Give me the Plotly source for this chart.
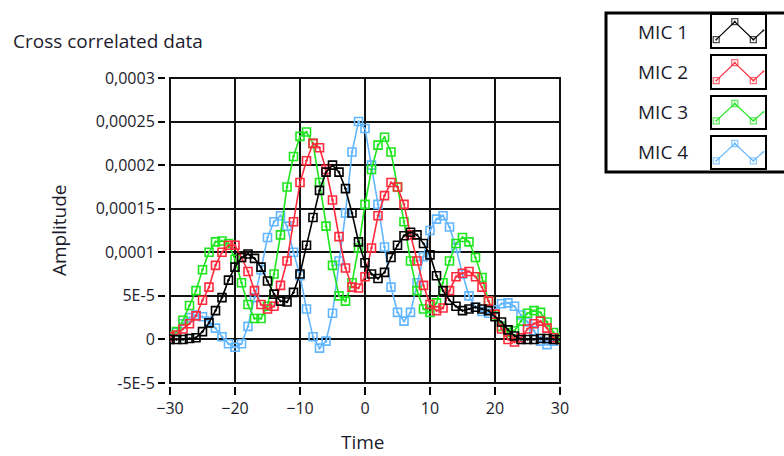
import plotly.graph_objects as go

# ---------------- data (amplitude values in units of 1e-5) ----------------
TIME = list(range(-30, 31))
SCALE = 1e-5

MIC1 = [0, 0, 0, 0.1, 0.2, 0.9, 1.9, 3.3, 4.8, 6.8, 8.3, 9.4, 9.8, 9.3, 8.3, 6.7, 5.2, 4.4, 4.3, 5.4,
        7.5, 10.8, 14, 17.1, 19.2, 20, 19.2, 17.3, 14.5, 11.2, 8.8, 7.5, 7, 7.7, 9.4, 10.8, 11.9, 12.3,
        12, 11, 9.7, 7.3, 5.6, 4.5, 3.8, 3.3, 3.5, 3.7, 3.5, 3.3, 2.6, 2.0, 1.1, 0.4, 0, 0, 0, 0.1, 0.1, 0, 0]
MIC2 = [0.3, 0.5, 1.2, 1.8, 2.7, 4.5, 6.0, 8.5, 10.0, 10.8, 10.8, 9.4, 7.8, 5.6, 4.0, 3.5, 3.8, 6.2, 9.0,
        13.5, 18.0, 20.5, 22.5, 22.0, 19.5, 16.0, 11.8, 8.2, 6.0, 5.9, 7.2, 10.5, 14.2, 16.5, 18.0, 17.5,
        15.5, 12.0, 9.0, 6.2, 4.0, 3.3, 3.6, 5.6, 7.2, 7.6, 7.8, 7.2, 6.0, 4.4, 2.9, 1.2, 0.0, -0.3, 0.2,
        1.2, 1.8, 2.1, 1.3, 0.2, 0]
MIC3 = [0.4, 0.9, 2.2, 3.9, 5.6, 8.0, 10.0, 11.2, 11.3, 11.0, 9.2, 6.5, 4.0, 2.4, 2.4, 3.8, 7.5, 12.0,
        17.5, 21.0, 23.3, 23.8, 22.5, 18.0, 13.0, 8.5, 5.0, 4.4, 6.5, 10.5, 15.5, 19.5, 22.3, 23.2, 21.5,
        17.5, 13.5, 9.0, 5.6, 3.5, 3.1, 4.2, 6.5, 9.0, 11.0, 11.7, 11.2, 9.4, 7.1, 4.4, 2.8, 1.5, 0.8,
        1.0, 2.1, 3.0, 3.3, 3.1, 2.0, 0.8, 0.2]
MIC4 = [0.3, 0.8, 1.8, 2.5, 2.8, 2.6, 2.1, 1.3, 0.3, -0.5, -0.9, -0.5, 1.5, 4.8, 8.0, 11.7, 13.5, 14.2,
        13.0, 10.0, 7.3, 3.5, 0.3, -1.0, -0.2, 3.0, 9.0, 14.5, 21.5, 25.0, 24.2, 20.0, 15.5, 10.6, 6.0,
        3.1, 2.1, 3.1, 6.5, 9.5, 12.5, 13.8, 14.2, 12.9, 10.5, 7.5, 5.0, 3.7, 3.2, 3.0, 3.4, 4.1, 4.2,
        3.8, 2.8, 2.0, 1.0, -0.2, -0.6, -0.2, 0]

SERIES_NAMES = ["MIC 1", "MIC 2", "MIC 3", "MIC 4"]
SERIES_VALUES = [MIC1, MIC2, MIC3, MIC4]
SERIES_COLORS = ["#000000", "#ff2b3d", "#1ee61e", "#62b6ff"]

Y_TICKVALS = [-5e-5, 0, 5e-5, 1e-4, 1.5e-4, 2e-4, 2.5e-4, 3e-4]
Y_TICKTEXT = ["-5E-5", "0", "5E-5", "0,0001", "0,00015", "0,0002", "0,00025", "0,0003"]
X_TICKVALS = [-30, -20, -10, 0, 10, 20, 30]

# legend glyph shape (normalized inside each icon box)
ICON_X = [0.08, 0.43, 0.78, 0.97]
ICON_Y = [0.23, 0.79, 0.23, 0.52]
ICON_MARKER_SIZES = [6, 6, 6, 0]

# ---------------- layout geometry (pixels) ----------------
W, H = 784, 456
PL, PR, PT, PB = 170, 560, 78, 383
FONT = "Open Sans"
TXT = "#1c1c2c"
LABEL_SIZE = 19
TICK_SIZE = 16


def px(x):
    return x / W


def py(y):
    return 1 - y / H


fig = go.Figure()

# draw blue, green, red, black (black on top)
for i in [3, 2, 1, 0]:
    fig.add_trace(go.Scatter(
        x=TIME, y=[v * SCALE for v in SERIES_VALUES[i]],
        mode="lines+markers", name=SERIES_NAMES[i],
        line=dict(color=SERIES_COLORS[i], width=1.6),
        marker=dict(symbol="square-open-dot", size=8, color=SERIES_COLORS[i],
                    line=dict(width=1.6, color=SERIES_COLORS[i])),
        showlegend=False, xaxis="x", yaxis="y",
    ))

# legend icons as tiny inset axes
icon_boxes = [(15, 47), (56, 88), (97, 128), (137, 168)]
text_y = [32, 72, 112, 152]
layout_axes = {}
for k in range(4):
    n = k + 2
    fig.add_trace(go.Scatter(
        x=ICON_X, y=ICON_Y, mode="lines+markers",
        line=dict(color=SERIES_COLORS[k], width=1.2),
        marker=dict(symbol="square-open-dot", size=ICON_MARKER_SIZES, color=SERIES_COLORS[k],
                    line=dict(width=1.3, color=SERIES_COLORS[k])),
        showlegend=False, xaxis=f"x{n}", yaxis=f"y{n}", hoverinfo="skip",
    ))
    t, b = icon_boxes[k]
    common = dict(range=[0, 1], showgrid=False, zeroline=False, showticklabels=False, ticks="",
                  showline=True, mirror=True, linecolor="#000", linewidth=2, fixedrange=True,
                  automargin=False)
    layout_axes[f"xaxis{n}"] = dict(domain=[px(712), px(765)], anchor=f"y{n}", **common)
    layout_axes[f"yaxis{n}"] = dict(domain=[py(b), py(t)], anchor=f"x{n}", **common)

annotations = [
    dict(text="Cross correlated data", x=px(11), y=py(41), xref="paper", yref="paper",
         xanchor="left", yanchor="middle", showarrow=False,
         font=dict(size=LABEL_SIZE, color=TXT, family=FONT)),
    dict(text="Amplitude", x=px(59), y=py(230), xref="paper", yref="paper", textangle=-90,
         xanchor="center", yanchor="middle", showarrow=False,
         font=dict(size=LABEL_SIZE, color=TXT, family=FONT)),
    dict(text="Time", x=px(363), y=py(442), xref="paper", yref="paper",
         xanchor="center", yanchor="middle", showarrow=False,
         font=dict(size=LABEL_SIZE, color=TXT, family=FONT)),
]
for k in range(4):
    annotations.append(dict(text=SERIES_NAMES[k], x=px(663), y=py(text_y[k]), xref="paper", yref="paper",
                            xanchor="center", yanchor="middle", showarrow=False,
                            font=dict(size=LABEL_SIZE, color=TXT, family=FONT)))

shapes = [
    dict(type="rect", xref="paper", yref="paper", x0=px(PL), x1=px(PR), y0=py(PB), y1=py(PT),
         line=dict(color="#111", width=2), layer="below"),
    dict(type="rect", xref="paper", yref="paper", x0=px(606), x1=px(792), y0=py(172), y1=py(13),
         line=dict(color="#000", width=3)),
]

fig.update_layout(
    width=W, height=H,
    margin=dict(l=0, r=0, t=0, b=0, pad=0, autoexpand=False),
    paper_bgcolor="white", plot_bgcolor="white",
    font=dict(family=FONT, size=TICK_SIZE, color=TXT),
    xaxis=dict(domain=[px(PL), px(PR)], range=[-30, 30], anchor="free", position=py(386),
               tickvals=X_TICKVALS, ticks="outside", ticklen=8, tickwidth=1.5, tickcolor="#000",
               showgrid=True, gridcolor="#111", gridwidth=2, zeroline=False, showline=False,
               automargin=False, tickfont=dict(size=TICK_SIZE, color=TXT, family=FONT)),
    yaxis=dict(domain=[py(PB), py(PT)], range=[-5e-5, 3e-4], anchor="free", position=px(165),
               tickvals=Y_TICKVALS, ticktext=Y_TICKTEXT, ticks="outside", ticklen=7, tickwidth=1.5,
               tickcolor="#000", showgrid=True, gridcolor="#111", gridwidth=2, zeroline=False,
               showline=False, automargin=False,
               tickfont=dict(size=TICK_SIZE, color=TXT, family=FONT)),
    annotations=annotations,
    shapes=shapes,
    showlegend=False,
    **layout_axes,
)

fig.write_html("out.html")
